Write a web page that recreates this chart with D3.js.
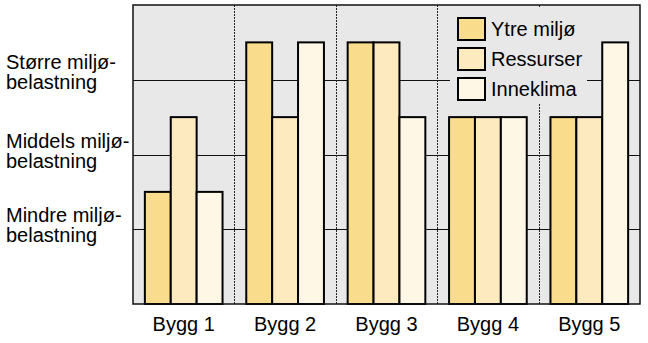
<!DOCTYPE html>
<html>
<head>
<meta charset="utf-8">
<script src="https://cdn.jsdelivr.net/npm/d3@7"></script>
<style>
  html, body { margin: 0; padding: 0; background: #fff; }
  svg { display: block; font-family: "Liberation Sans", Arial, sans-serif; }
</style>
</head>
<body>
<svg id="chart" width="648" height="343"></svg>
<script>
// Environmental load per building, on a 0–4 scale
const buildings = ["Bygg 1", "Bygg 2", "Bygg 3", "Bygg 4", "Bygg 5"];
const seriesNames = ["Ytre miljø", "Ressurser", "Inneklima"];
const ytreMiljo = [1.5, 3.5, 3.5, 2.5, 2.5];
const ressurser = [2.5, 2.5, 3.5, 2.5, 2.5];
const inneklima = [1.5, 3.5, 2.5, 2.5, 3.5];
const levelTicks = [1, 2, 3];
const levelLabels = [
  ["Mindre miljø-", "belastning"],
  ["Middels miljø-", "belastning"],
  ["Større miljø-", "belastning"]
];
const colors = ["#f9dd8c", "#fdeabf", "#fef7e6"];

const seriesValues = [ytreMiljo, ressurser, inneklima];

const svg = d3.select("#chart");
const plot = { left: 133, right: 640, top: 5, bottom: 304 };
const fontSize = 20;

const x = d3.scaleBand()
  .domain(buildings)
  .range([plot.left, plot.right])
  .paddingInner(0.234)
  .paddingOuter(0.117);

const xs = d3.scaleBand()
  .domain(seriesNames)
  .range([0, x.bandwidth()]);

const y = d3.scaleLinear().domain([0, 4]).range([plot.bottom, plot.top]);

// Plot background
svg.append("rect")
  .attr("x", plot.left).attr("y", plot.top)
  .attr("width", plot.right - plot.left).attr("height", plot.bottom - plot.top)
  .attr("fill", "#e8e8e8");

// Horizontal grid lines at level boundaries
svg.append("g").selectAll("line")
  .data(levelTicks)
  .join("line")
  .attr("x1", plot.left).attr("x2", plot.right)
  .attr("y1", d => Math.round(y(d)) + 0.5).attr("y2", d => Math.round(y(d)) + 0.5)
  .attr("stroke", "#111").attr("stroke-width", 1);

// Vertical grid lines between buildings
const step = x.step();
svg.append("g").selectAll("line")
  .data(buildings.slice(1))
  .join("line")
  .attr("x1", d => Math.round(x(d) - step * x.paddingInner() / 2) + 0.5)
  .attr("x2", d => Math.round(x(d) - step * x.paddingInner() / 2) + 0.5)
  .attr("y1", plot.top).attr("y2", plot.bottom)
  .attr("stroke", "#222").attr("stroke-width", 1)
  .attr("stroke-dasharray", "2,1");

// Legend panel covers the grid behind it
const legend = svg.append("g");
legend.append("rect")
  .attr("x", 450).attr("y", plot.top + 2)
  .attr("width", 137).attr("height", 97)
  .attr("fill", "#e8e8e8");

// Bars
const groups = svg.append("g").selectAll("g")
  .data(buildings)
  .join("g")
  .attr("transform", d => `translate(${x(d)},0)`);

groups.selectAll("rect")
  .data((b, i) => seriesNames.map((s, j) => ({ s, j, v: seriesValues[j][i] })))
  .join("rect")
  .attr("x", d => xs(d.s))
  .attr("y", d => y(d.v))
  .attr("width", xs.bandwidth())
  .attr("height", d => y(0) - y(d.v))
  .attr("fill", d => colors[d.j])
  .attr("stroke", "#000")
  .attr("stroke-width", 2);

// Frame
svg.append("rect")
  .attr("x", plot.left).attr("y", plot.top)
  .attr("width", plot.right - plot.left).attr("height", plot.bottom - plot.top)
  .attr("fill", "none")
  .attr("stroke", "#111").attr("stroke-width", 1.5);

// Legend entries
const entries = legend.selectAll("g.entry")
  .data(seriesNames)
  .join("g")
  .attr("class", "entry")
  .attr("transform", (d, i) => `translate(458,${18 + i * 30})`);

entries.append("rect")
  .attr("width", 27).attr("height", 22)
  .attr("fill", (d, i) => colors[i])
  .attr("stroke", "#000").attr("stroke-width", 2);

entries.append("text")
  .attr("x", 33).attr("y", 18)
  .attr("font-size", fontSize)
  .attr("fill", "#000")
  .text(d => d);

// Building labels
svg.append("g").selectAll("text")
  .data(buildings)
  .join("text")
  .attr("x", d => x(d) + x.bandwidth() / 2)
  .attr("y", 331)
  .attr("text-anchor", "middle")
  .attr("font-size", fontSize)
  .attr("fill", "#000")
  .text(d => d);

// Level labels on the left
const lvl = svg.append("g").selectAll("text")
  .data(levelTicks)
  .join("text")
  .attr("x", 6)
  .attr("y", d => y(d) - (d === 3 ? 11 : 7))
  .attr("font-size", fontSize)
  .attr("fill", "#000");

lvl.selectAll("tspan")
  .data((d, i) => levelLabels[i])
  .join("tspan")
  .attr("x", 6)
  .attr("dy", (d, k) => k === 0 ? 0 : 20)
  .text(d => d);
</script>
</body>
</html>
